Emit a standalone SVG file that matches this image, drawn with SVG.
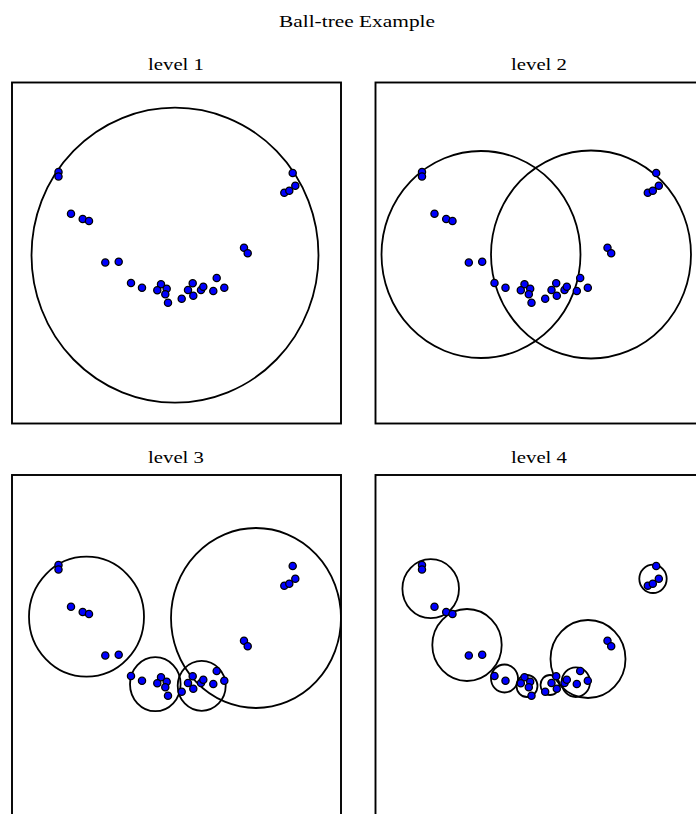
<svg xmlns="http://www.w3.org/2000/svg" xmlns:xlink="http://www.w3.org/1999/xlink" width="696" height="814" viewBox="0 0 696 814">
<style>
.t{font-family:"Liberation Serif","DejaVu Serif",serif;font-size:17.5px;fill:#000;text-anchor:middle}
.frame{fill:none;stroke:#000;stroke-width:1.9}
.ball{fill:none;stroke:#000;stroke-width:1.8}
.pt{fill:#0000ff;stroke:#000;stroke-width:1.3}
</style>
<defs>
<clipPath id="c1"><rect x="12" y="82.5" width="329" height="341"/></clipPath>
<clipPath id="c2"><rect x="375.5" y="82.5" width="329" height="341"/></clipPath>
<clipPath id="c3"><rect x="12" y="475" width="329" height="341"/></clipPath>
<clipPath id="c4"><rect x="375.5" y="475" width="329" height="341"/></clipPath>
<g id="pts">
<circle class="pt" cx="58.5" cy="172" r="3.6"/>
<circle class="pt" cx="58.5" cy="176.5" r="3.6"/>
<circle class="pt" cx="71" cy="213.7" r="3.6"/>
<circle class="pt" cx="82.7" cy="219" r="3.6"/>
<circle class="pt" cx="89" cy="221" r="3.6"/>
<circle class="pt" cx="105.3" cy="262.5" r="3.6"/>
<circle class="pt" cx="118.7" cy="261.7" r="3.6"/>
<circle class="pt" cx="131" cy="283" r="3.6"/>
<circle class="pt" cx="142" cy="287.8" r="3.6"/>
<circle class="pt" cx="161" cy="284.3" r="3.6"/>
<circle class="pt" cx="157.3" cy="290.3" r="3.6"/>
<circle class="pt" cx="166.7" cy="288.7" r="3.6"/>
<circle class="pt" cx="165.3" cy="294.3" r="3.6"/>
<circle class="pt" cx="168" cy="302.7" r="3.6"/>
<circle class="pt" cx="181.7" cy="298.7" r="3.6"/>
<circle class="pt" cx="188" cy="290" r="3.6"/>
<circle class="pt" cx="192.7" cy="283.3" r="3.6"/>
<circle class="pt" cx="193.3" cy="295.7" r="3.6"/>
<circle class="pt" cx="201" cy="290" r="3.6"/>
<circle class="pt" cx="203.3" cy="286.7" r="3.6"/>
<circle class="pt" cx="213.3" cy="291" r="3.6"/>
<circle class="pt" cx="216.7" cy="278" r="3.6"/>
<circle class="pt" cx="224.3" cy="287.7" r="3.6"/>
<circle class="pt" cx="244" cy="247.7" r="3.6"/>
<circle class="pt" cx="247.7" cy="253.3" r="3.6"/>
<circle class="pt" cx="292.7" cy="173" r="3.6"/>
<circle class="pt" cx="284.3" cy="192.7" r="3.6"/>
<circle class="pt" cx="289.3" cy="190.7" r="3.6"/>
<circle class="pt" cx="295.3" cy="185.7" r="3.6"/>
</g>
</defs>
<rect width="696" height="814" fill="#fff"/>
<text class="t" x="357" y="26.5" textLength="156" lengthAdjust="spacingAndGlyphs">Ball-tree Example</text>

<g id="level1">
<text class="t" x="176" y="70" textLength="56" lengthAdjust="spacingAndGlyphs">level 1</text>
<g clip-path="url(#c1)">
<ellipse class="ball" cx="175" cy="255.2" rx="143.5" ry="147.5"/>
<use xlink:href="#pts"/>
</g>
<rect class="frame" x="12" y="82.5" width="329" height="341"/>
</g>

<g id="level2">
<text class="t" x="539" y="70" textLength="56" lengthAdjust="spacingAndGlyphs">level 2</text>
<g clip-path="url(#c2)">
<ellipse class="ball" cx="481" cy="254.5" rx="99.5" ry="103.5"/>
<ellipse class="ball" cx="591" cy="254.5" rx="100" ry="104"/>
<use xlink:href="#pts" transform="translate(363.5,0)"/>
</g>
<rect class="frame" x="375.5" y="82.5" width="329" height="341"/>
</g>

<g id="level3">
<text class="t" x="176" y="462.5" textLength="56" lengthAdjust="spacingAndGlyphs">level 3</text>
<g clip-path="url(#c3)">
<ellipse class="ball" cx="86.5" cy="616.7" rx="57.5" ry="60"/>
<ellipse class="ball" cx="155.3" cy="684.2" rx="25.3" ry="27"/>
<ellipse class="ball" cx="201.7" cy="685.8" rx="24" ry="25"/>
<ellipse class="ball" cx="256" cy="618" rx="85" ry="90"/>
<use xlink:href="#pts" transform="translate(0,393)"/>
</g>
<rect class="frame" x="12" y="475" width="329" height="341"/>
</g>

<g id="level4">
<text class="t" x="539" y="462.5" textLength="56" lengthAdjust="spacingAndGlyphs">level 4</text>
<g clip-path="url(#c4)">
<ellipse class="ball" cx="430.7" cy="588.7" rx="28.3" ry="29.5"/>
<ellipse class="ball" cx="467" cy="645" rx="34.7" ry="36"/>
<ellipse class="ball" cx="504.5" cy="678.5" rx="13.5" ry="14"/>
<ellipse class="ball" cx="527" cy="686" rx="10.5" ry="11"/>
<ellipse class="ball" cx="550" cy="685" rx="9.5" ry="10"/>
<ellipse class="ball" cx="575.8" cy="682.2" rx="14.2" ry="14.8"/>
<ellipse class="ball" cx="588" cy="659" rx="37.5" ry="39"/>
<ellipse class="ball" cx="653" cy="578.8" rx="13.7" ry="14.2"/>
<use xlink:href="#pts" transform="translate(363.5,393)"/>
</g>
<rect class="frame" x="375.5" y="475" width="329" height="341"/>
</g>
</svg>
